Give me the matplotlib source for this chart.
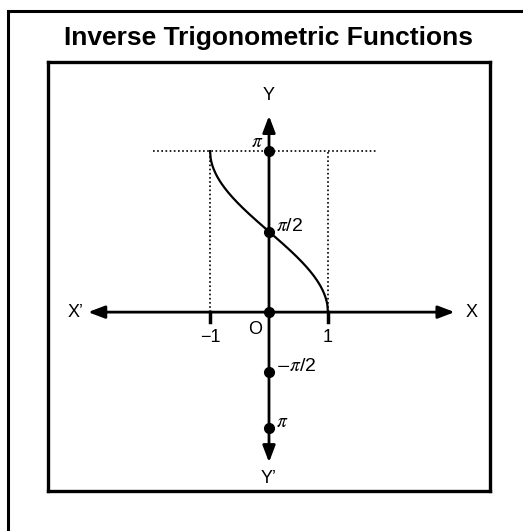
import numpy as np
import matplotlib
matplotlib.use("Agg")
import matplotlib.pyplot as plt
from matplotlib.patches import Rectangle

plt.rcParams['font.family'] = ['Liberation Sans', 'DejaVu Sans']
plt.rcParams['mathtext.fontset'] = 'stix'

title = "Inverse Trigonometric Functions"

# curve y = arccos(x)
curve_x = np.linspace(-1, 1, 200)
curve_y = np.arccos(curve_x)

# marked points on the y axis (lower ones drawn schematically, as in the picture)
y_points = [np.pi, np.pi / 2, 0, -1.17, -2.26]
y_labels = [r"$\pi$", r"$\pi$/2", "", r"$-\pi$/2", r"$\pi$"]

x_ticks = [-1, 1]
x_tick_labels = ["\u22121", "1"]

fig = plt.figure(figsize=(5.23, 5.31), dpi=100)
W, H = 523, 531

# outer frame
fig.patches.append(Rectangle((8 / W, -0.1), 1.2, 1 - 11 / H + 0.1, transform=fig.transFigure,
                             fill=False, lw=2.2, ec="black"))
fig.text(269 / W, 1 - 38 / H, title, ha="center", va="center", fontsize=19, fontweight="bold")

ax = fig.add_axes([48 / W, 40 / H, 442 / W, 429 / H])
ax.set_xlim(-3.75, 3.75)
ax.set_ylim(-3.49, 4.88)
ax.set_xticks([])
ax.set_yticks([])
for s in ax.spines.values():
    s.set_linewidth(2.4)

# axes with arrows
ax.annotate("", xy=(3.15, 0), xytext=(-3.07, 0),
            arrowprops=dict(arrowstyle="<|-|>,head_length=1.0,head_width=0.38", lw=2, color="black",
                            shrinkA=0, shrinkB=0))
ax.annotate("", xy=(0, 3.83), xytext=(0, -2.93),
            arrowprops=dict(arrowstyle="<|-|>,head_length=1.0,head_width=0.38", lw=2, color="black",
                            shrinkA=0, shrinkB=0))

# dotted guide lines
ax.plot([-1.97, 1.85], [np.pi, np.pi], ls=(0, (1, 1.5)), color="black", lw=1.2)
for xv in x_ticks:
    ax.plot([xv, xv], [0, np.pi], ls=(0, (1, 1.5)), color="black", lw=1.2)

ax.plot(curve_x, curve_y, color="black", lw=1.6)

# ticks on x axis
for xv, lab in zip(x_ticks, x_tick_labels):
    ax.plot([xv, xv], [0, -0.2], color="black", lw=2.5)
    ax.text(xv, -0.32, lab, ha="center", va="top", fontsize=13)
ax.text(-0.24, -0.33, "O", ha="center", va="center", fontsize=13)

ax.plot([0] * len(y_points), y_points, "o", color="black", ms=7)
ax.text(-0.2, y_points[0] + 0.17, y_labels[0], ha="center", va="center", fontsize=14)
for yv, lab in zip(y_points[1:], y_labels[1:]):
    ax.text(0.12, yv + 0.1, lab, ha="left", va="center", fontsize=14)

ax.text(-3.28, 0, "X\u2019", ha="center", va="center", fontsize=13)
ax.text(3.43, 0, "X", ha="center", va="center", fontsize=13)
ax.text(0, 4.23, "Y", ha="center", va="center", fontsize=13)
ax.text(0, -3.24, "Y\u2019", ha="center", va="center", fontsize=13)

fig.savefig("out.png", dpi=100)
